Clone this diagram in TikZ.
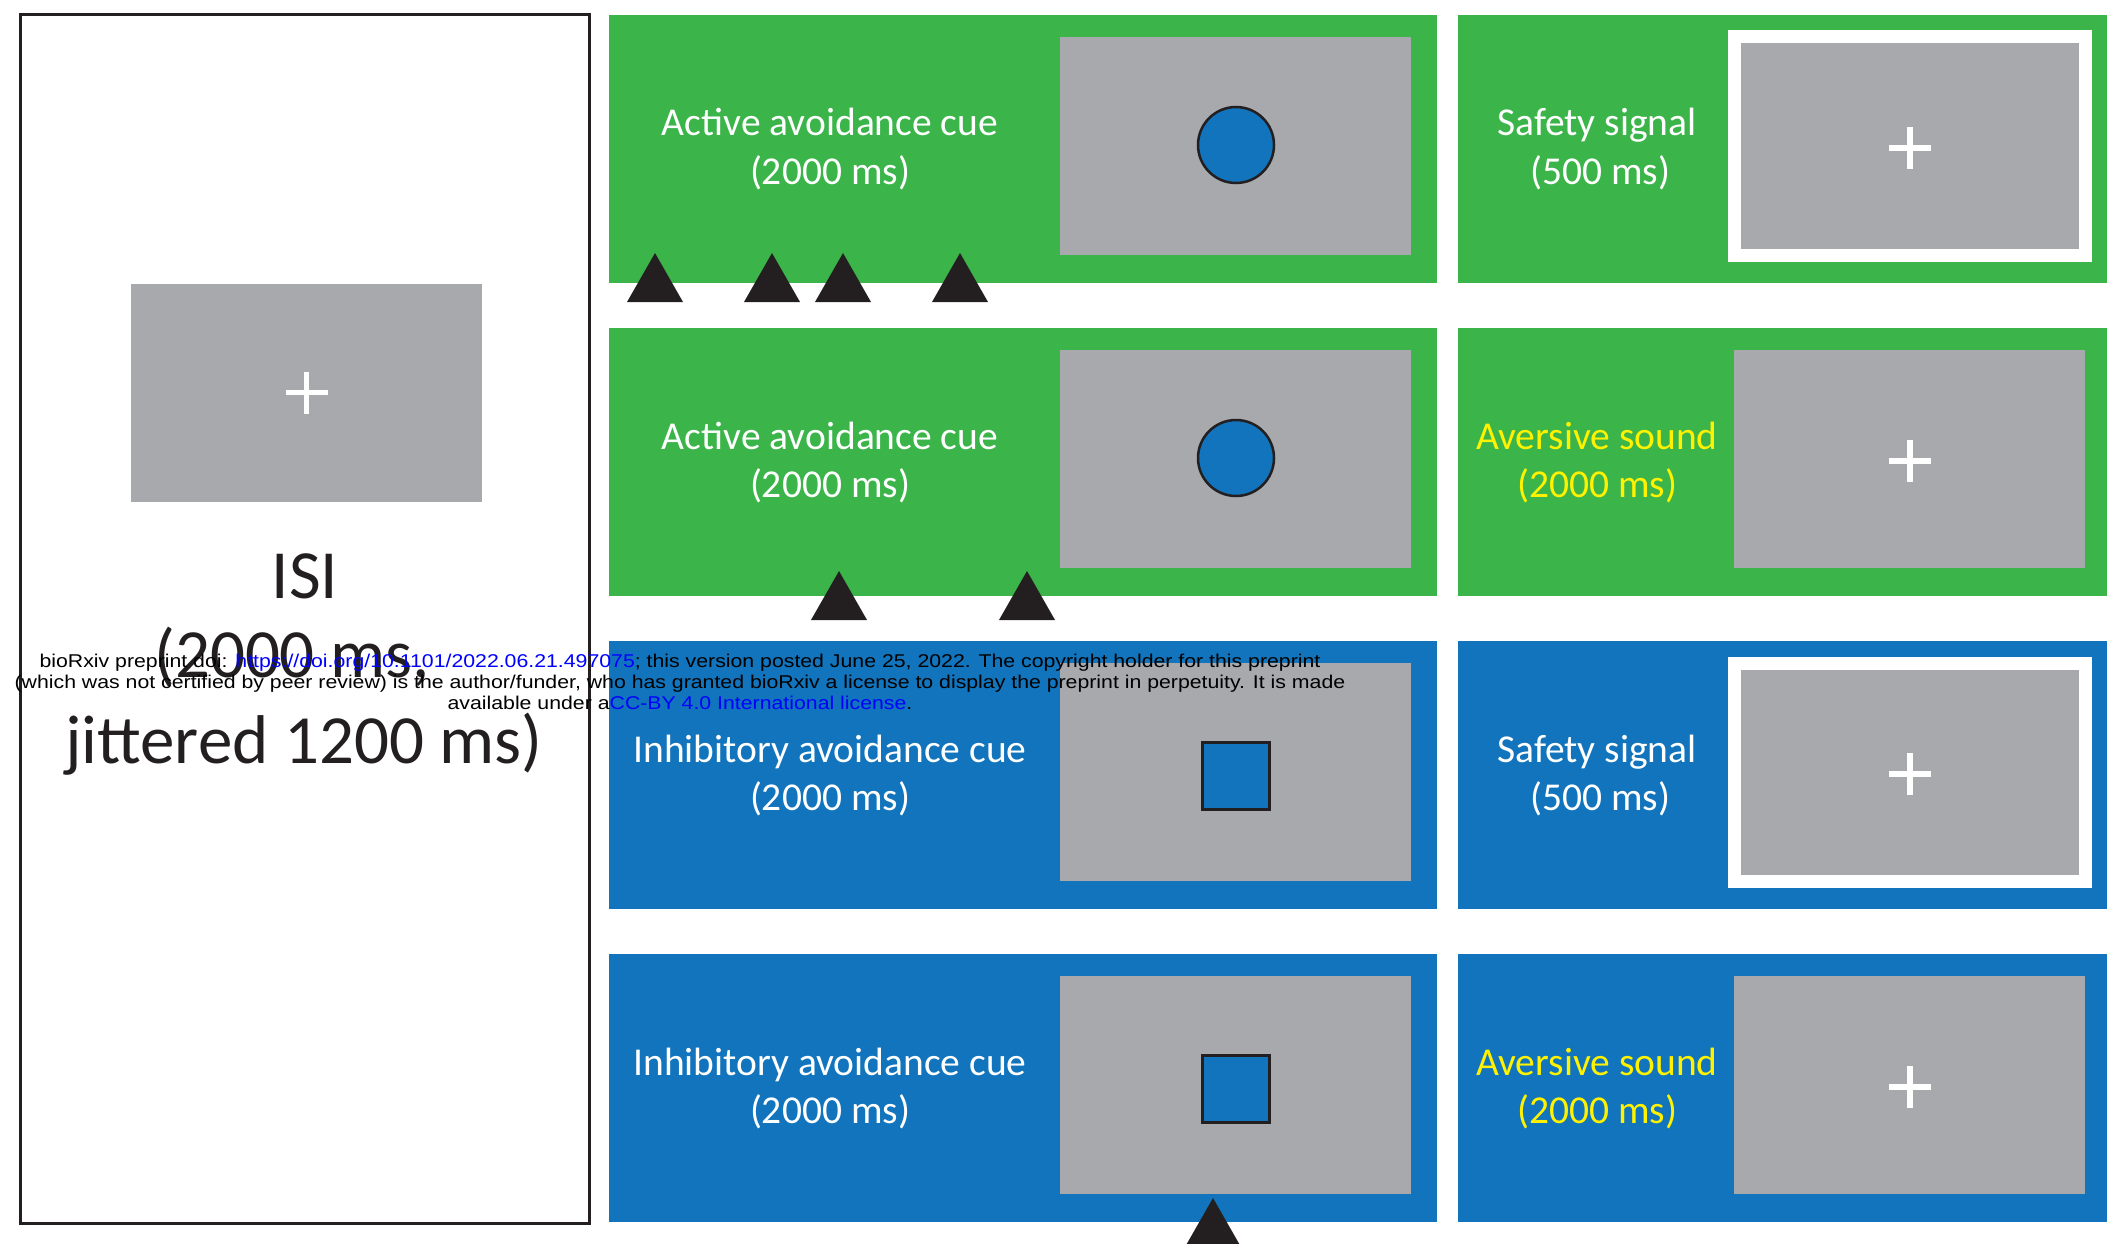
\documentclass[tikz,border=0pt]{standalone}
\usepackage{fontspec}
\setmainfont{Carlito}
\newfontfamily\notefont[FakeStretch=1.15]{Liberation Sans}
\definecolor{cgreen}{HTML}{3BB54A}
\definecolor{cblue}{HTML}{1174BC}
\definecolor{cgray}{HTML}{A7A9AC}
\definecolor{cyellow}{HTML}{FFF200}
\definecolor{cdark}{HTML}{231F20}
\definecolor{linkblue}{HTML}{0000FF}
\tikzset{
  screen/.style={fill=cgray, draw=none, inner sep=0pt, minimum width=351, minimum height=218},
  safetyscreen/.style={screen, draw=white, line width=13},
  cuelabel/.style={anchor=base, inner sep=0pt, text=white, font=\fontsize{39.5}{48}\selectfont},
  isilabel/.style={anchor=base, inner sep=0pt, text=cdark, font=\fontsize{69}{80}\selectfont},
  fixation/.style={white, line width=6},
  notelabel/.style={anchor=base, inner sep=0pt, text=black, font=\notefont\fontsize{18.5}{21}\selectfont},
}
\begin{document}
\begin{tikzpicture}[x=1pt, y=-1pt]
\useasboundingbox (0,0) rectangle (2107,1244);
\clip (0,0) rectangle (2107,1244);

% inter-stimulus interval panel
\node[draw=cdark, line width=3, inner sep=0pt, minimum width=569, minimum height=1208] (isi) at (304.5,619) {};
\node[screen] (isiscreen) at (306.5,392.5) {};
\draw[fixation, line width=5] ([xshift=-21]isiscreen.center) -- ([xshift=21]isiscreen.center)
                              ([yshift=-21]isiscreen.center) -- ([yshift=21]isiscreen.center);
\node[isilabel] (isi1) at (305,598) {ISI};
\node[isilabel] (isi2) at (292,677) {(2000 ms,};
\node[isilabel] (isi3) at (304,763) {jittered 1200 ms)};

% trial rows: cue panel and outcome panel
\foreach \r/\col/\cue/\shp/\dy/\out/\outcol/\scr in {
    1/cgreen/Active avoidance cue/circle/130/Safety signal/white/safetyscreen,
    2/cgreen/Active avoidance cue/circle/130/Aversive sound/cyellow/screen,
    3/cblue/Inhibitory avoidance cue/rectangle/135/Safety signal/white/safetyscreen,
    4/cblue/Inhibitory avoidance cue/rectangle/135/Aversive sound/cyellow/screen} {
  \pgfmathsetmacro\T{15+313*(\r-1)}
  \fill[\col] (609,\T) rectangle (1437,\T+268);
  \fill[\col] (1458,\T) rectangle (2112,\T+268);
  % cue screen with its shape
  \node[screen] (cuescr\r) at (1235.5,\T+131) {};
  \node[\shp, fill=cblue, draw=cdark, line width=2.5, inner sep=0pt,
        minimum width=\ifnum\r<3 76\else 67\fi, minimum height=\ifnum\r<3 76\else 67\fi]
        (cueshape\r) at (1236,\T+\dy) {};
  \node[cuelabel] (cuetext\r) at (830,\T+121) {\cue};
  \node[cuelabel] (cuetime\r) at (830,\T+169) {(2000 ms)};
  % outcome screen with fixation cross
  \node[\scr] (outscr\r) at (1909.5,\T+131) {};
  \draw[fixation] ([xshift=-21,yshift=-2]outscr\r.center) -- ([xshift=21,yshift=-2]outscr\r.center)
                  ([yshift=-23]outscr\r.center) -- ([yshift=19]outscr\r.center);
  \node[cuelabel, text=\outcol] (outtext\r) at (1597,\T+121) {\out};
}
\node[cuelabel] (outtime1) at (1600,184) {(500 ms)};
\node[cuelabel, text=cyellow] (outtime2) at (1597,497) {(2000 ms)};
\node[cuelabel] (outtime3) at (1600,810) {(500 ms)};
\node[cuelabel, text=cyellow] (outtime4) at (1597,1123) {(2000 ms)};

% response markers
\foreach \x/\y in {655/253, 772/253, 843/253, 960/253, 839/571, 1027/571, 1213/1198}
  \fill[cdark] (\x-28,\y+49) -- (\x,\y) -- (\x+28,\y+49) -- cycle;

% preprint notice
\node[notelabel] (note1) at (680,667) {bioRxiv preprint doi: \textcolor{linkblue}{https://doi.org/10.1101/2022.06.21.497075}; this version posted June 25, 2022. The copyright holder for this preprint};
\node[notelabel] (note2) at (680,688) {(which was not certified by peer review) is the author/funder, who has granted bioRxiv a license to display the preprint in perpetuity. It is made};
\node[notelabel] (note3) at (680,709) {available under a\textcolor{linkblue}{CC-BY 4.0 International license}.};
\end{tikzpicture}
\end{document}
